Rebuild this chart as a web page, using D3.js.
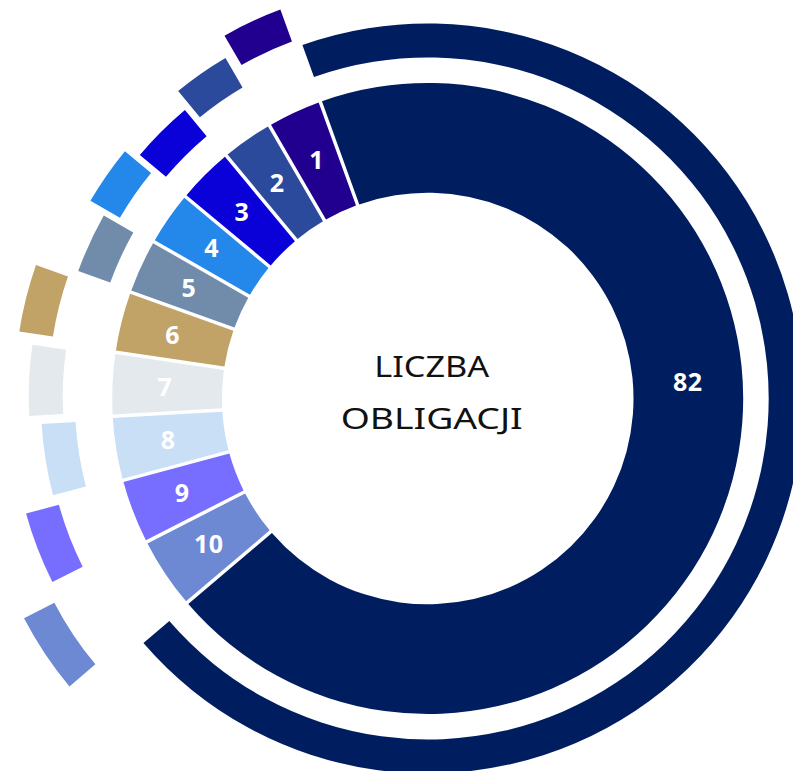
<!DOCTYPE html>
<html><head><meta charset="utf-8">
<script src="https://cdn.jsdelivr.net/npm/d3@7"></script>
<style>html,body{margin:0;padding:0;background:#fff;overflow:hidden}</style>
</head><body>
<svg id="chart" width="793" height="771"></svg>
<script>
// ---- data ----
const categories = ["1","2","3","4","5","6","7","8","9","10","82"];
const values = [3.35, 3.15, 3.45, 3.29, 3.32, 3.70, 3.83, 3.88, 3.94, 4.37, 82];
const outerShift = [41, 21, 2, 16, -3, 39, 24, 12, 43, 85, 0];
const colors = ["#22008F","#2B4A9C","#0A00D8","#2488EA","#718CAA","#C1A367","#E4E9EE","#C8DFF6","#776EFF","#6D89D4","#001E5F"];
const centerTitle = ["LICZBA", "OBLIGACJI"];

// ---- layout ----
const W = 793, H = 771;
const cx = 427.7, cy = 398.5;
const rIn0 = 205.8, rIn1 = 315.5;
const rOut0 = 341, rOut1 = 375;
const start = -19.9 * Math.PI / 180;

const data = categories.map((c, i) => ({cat: c, value: values[i], shift: outerShift[i], color: colors[i]}));

const pie = d3.pie().sort(null).value(d => d.value)
  .startAngle(start).endAngle(start - 2 * Math.PI);
const arcs = pie(data);

const innerArc = d3.arc().innerRadius(rIn0).outerRadius(rIn1)
  .padRadius(260).padAngle(3.5 / 260);
const outerArc = d3.arc().innerRadius(rOut0).outerRadius(rOut1)
  .padRadius(358).padAngle(5 / 358);
const labelArc = d3.arc().innerRadius(263).outerRadius(263);

const shiftScale = d3.scaleLinear().domain([0, 100]).range([0, 100]);

const svg = d3.select("#chart");
const g = svg.append("g").attr("transform", `translate(${cx},${cy})`);

// outer exploded ring
g.append("g").selectAll("path").data(arcs).join("path")
  .attr("d", outerArc)
  .attr("fill", d => d.data.color)
  .attr("transform", d => {
    const mid = (d.startAngle + d.endAngle) / 2;
    const s = shiftScale(d.data.shift);
    return `translate(${s * Math.sin(mid)},${-s * Math.cos(mid)})`;
  });

// inner ring
g.append("g").selectAll("path").data(arcs).join("path")
  .attr("d", innerArc)
  .attr("fill", d => d.data.color);

// labels
const maxV = d3.max(values);
g.append("g").selectAll("text").data(arcs).join("text")
  .attr("x", d => d.data.value === maxV ? 260 : labelArc.centroid(d)[0])
  .attr("y", d => d.data.value === maxV ? -7.5 : labelArc.centroid(d)[1])
  .attr("dy", d => d.data.value === maxV ? 0 : "0.36em")
  .attr("text-anchor", "middle")
  .attr("font-family", "'Noto Sans', 'Open Sans', sans-serif")
  .attr("font-weight", 700)
  .attr("font-size", 25)
  .attr("letter-spacing", 0.5)
  .attr("fill", "#ffffff")
  .text(d => d.data.cat);

// center title
g.append("text").attr("x", 4).attr("y", -21.5)
  .attr("text-anchor", "middle")
  .attr("font-family", "'Noto Sans', sans-serif").attr("font-weight", 400)
  .attr("font-size", 28.5).attr("fill", "#111")
  .attr("textLength", 115).attr("lengthAdjust", "spacingAndGlyphs")
  .text(centerTitle[0]);
g.append("text").attr("x", 4).attr("y", 30.5)
  .attr("text-anchor", "middle")
  .attr("font-family", "'Noto Sans', sans-serif").attr("font-weight", 400)
  .attr("font-size", 28.5).attr("fill", "#111")
  .attr("textLength", 182).attr("lengthAdjust", "spacingAndGlyphs")
  .text(centerTitle[1]);
</script>
</body></html>
